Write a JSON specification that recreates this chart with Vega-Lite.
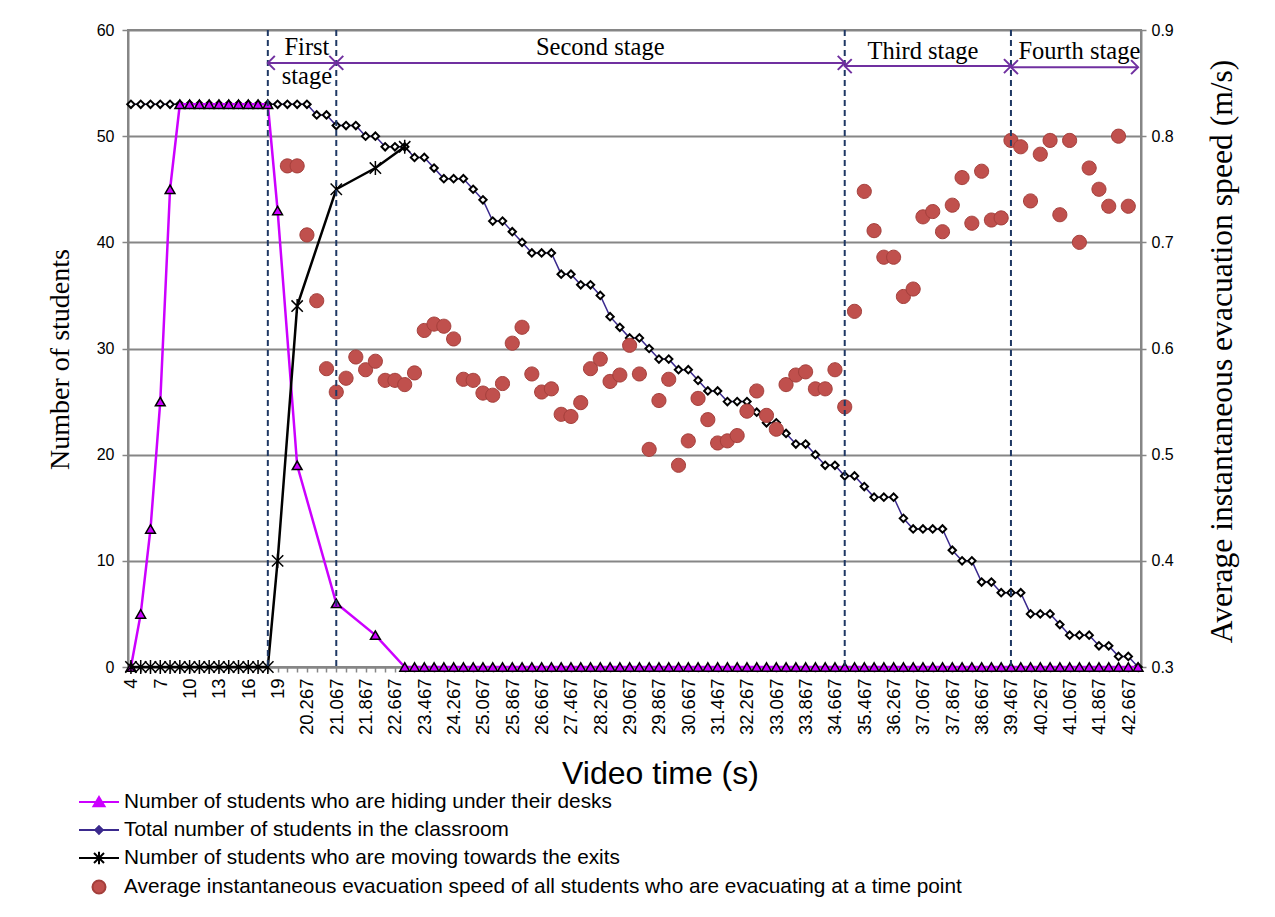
{
  "$schema": "https://vega.github.io/schema/vega-lite/v6.json",
  "width": 1013,
  "height": 637,
  "autosize": {"type": "none"},
  "padding": {"left": 128, "top": 30, "right": 134, "bottom": 250},
  "background": "white",
  "config": {
    "view": {"stroke": "#868686", "strokeWidth": 2},
    "axis": {
      "domainColor": "#868686",
      "domainWidth": 2,
      "tickColor": "#868686",
      "tickWidth": 1.5,
      "labelColor": "#000000",
      "labelFont": "Liberation Sans",
      "labelFontSize": 16,
      "titleColor": "#000000",
      "titleFontWeight": "normal"
    }
  },
  "datasets": {
    "total": [
      {"t": "4", "n": 53}, {"t": "5", "n": 53}, {"t": "6", "n": 53}, {"t": "7", "n": 53},
      {"t": "8", "n": 53}, {"t": "9", "n": 53}, {"t": "10", "n": 53}, {"t": "11", "n": 53},
      {"t": "12", "n": 53}, {"t": "13", "n": 53}, {"t": "14", "n": 53}, {"t": "15", "n": 53},
      {"t": "16", "n": 53}, {"t": "17", "n": 53}, {"t": "18", "n": 53}, {"t": "19", "n": 53},
      {"t": "19.733", "n": 53}, {"t": "20.000", "n": 53}, {"t": "20.267", "n": 53},
      {"t": "20.533", "n": 52}, {"t": "20.800", "n": 52},
      {"t": "21.067", "n": 51}, {"t": "21.333", "n": 51}, {"t": "21.600", "n": 51},
      {"t": "21.867", "n": 50}, {"t": "22.133", "n": 50},
      {"t": "22.400", "n": 49}, {"t": "22.667", "n": 49}, {"t": "22.933", "n": 49},
      {"t": "23.200", "n": 48}, {"t": "23.467", "n": 48},
      {"t": "23.733", "n": 47},
      {"t": "24.000", "n": 46}, {"t": "24.267", "n": 46}, {"t": "24.533", "n": 46},
      {"t": "24.800", "n": 45},
      {"t": "25.067", "n": 44},
      {"t": "25.333", "n": 42}, {"t": "25.600", "n": 42},
      {"t": "25.867", "n": 41},
      {"t": "26.133", "n": 40},
      {"t": "26.400", "n": 39}, {"t": "26.667", "n": 39}, {"t": "26.933", "n": 39},
      {"t": "27.200", "n": 37}, {"t": "27.467", "n": 37},
      {"t": "27.733", "n": 36}, {"t": "28.000", "n": 36},
      {"t": "28.267", "n": 35},
      {"t": "28.533", "n": 33},
      {"t": "28.800", "n": 32},
      {"t": "29.067", "n": 31}, {"t": "29.333", "n": 31},
      {"t": "29.600", "n": 30},
      {"t": "29.867", "n": 29}, {"t": "30.133", "n": 29},
      {"t": "30.400", "n": 28}, {"t": "30.667", "n": 28},
      {"t": "30.933", "n": 27},
      {"t": "31.200", "n": 26}, {"t": "31.467", "n": 26},
      {"t": "31.733", "n": 25}, {"t": "32.000", "n": 25}, {"t": "32.267", "n": 25},
      {"t": "32.533", "n": 24},
      {"t": "32.800", "n": 23}, {"t": "33.067", "n": 23},
      {"t": "33.333", "n": 22},
      {"t": "33.600", "n": 21}, {"t": "33.867", "n": 21},
      {"t": "34.133", "n": 20},
      {"t": "34.400", "n": 19}, {"t": "34.667", "n": 19},
      {"t": "34.933", "n": 18}, {"t": "35.200", "n": 18},
      {"t": "35.467", "n": 17},
      {"t": "35.733", "n": 16}, {"t": "36.000", "n": 16}, {"t": "36.267", "n": 16},
      {"t": "36.533", "n": 14},
      {"t": "36.800", "n": 13}, {"t": "37.067", "n": 13}, {"t": "37.333", "n": 13}, {"t": "37.600", "n": 13},
      {"t": "37.867", "n": 11},
      {"t": "38.133", "n": 10}, {"t": "38.400", "n": 10},
      {"t": "38.667", "n": 8}, {"t": "38.933", "n": 8},
      {"t": "39.200", "n": 7}, {"t": "39.467", "n": 7}, {"t": "39.733", "n": 7},
      {"t": "40.000", "n": 5}, {"t": "40.267", "n": 5}, {"t": "40.533", "n": 5},
      {"t": "40.800", "n": 4},
      {"t": "41.067", "n": 3}, {"t": "41.333", "n": 3}, {"t": "41.600", "n": 3},
      {"t": "41.867", "n": 2}, {"t": "42.133", "n": 2},
      {"t": "42.400", "n": 1}, {"t": "42.667", "n": 1},
      {"t": "42.933", "n": 0}
    ],
    "hiding": [
      {"t": "4", "n": 0}, {"t": "5", "n": 5}, {"t": "6", "n": 13}, {"t": "7", "n": 25},
      {"t": "8", "n": 45}, {"t": "9", "n": 53}, {"t": "10", "n": 53}, {"t": "11", "n": 53},
      {"t": "12", "n": 53}, {"t": "13", "n": 53}, {"t": "14", "n": 53}, {"t": "15", "n": 53},
      {"t": "16", "n": 53}, {"t": "17", "n": 53}, {"t": "18", "n": 53}, {"t": "19", "n": 43},
      {"t": "20.000", "n": 19}, {"t": "21.067", "n": 6}, {"t": "22.133", "n": 3},
      {"t": "22.933", "n": 0}, {"t": "23.200", "n": 0}, {"t": "23.467", "n": 0}, {"t": "23.733", "n": 0},
      {"t": "24.000", "n": 0}, {"t": "24.267", "n": 0}, {"t": "24.533", "n": 0}, {"t": "24.800", "n": 0},
      {"t": "25.067", "n": 0}, {"t": "25.333", "n": 0}, {"t": "25.600", "n": 0}, {"t": "25.867", "n": 0},
      {"t": "26.133", "n": 0}, {"t": "26.400", "n": 0}, {"t": "26.667", "n": 0}, {"t": "26.933", "n": 0},
      {"t": "27.200", "n": 0}, {"t": "27.467", "n": 0}, {"t": "27.733", "n": 0}, {"t": "28.000", "n": 0},
      {"t": "28.267", "n": 0}, {"t": "28.533", "n": 0}, {"t": "28.800", "n": 0}, {"t": "29.067", "n": 0},
      {"t": "29.333", "n": 0}, {"t": "29.600", "n": 0}, {"t": "29.867", "n": 0}, {"t": "30.133", "n": 0},
      {"t": "30.400", "n": 0}, {"t": "30.667", "n": 0}, {"t": "30.933", "n": 0}, {"t": "31.200", "n": 0},
      {"t": "31.467", "n": 0}, {"t": "31.733", "n": 0}, {"t": "32.000", "n": 0}, {"t": "32.267", "n": 0},
      {"t": "32.533", "n": 0}, {"t": "32.800", "n": 0}, {"t": "33.067", "n": 0}, {"t": "33.333", "n": 0},
      {"t": "33.600", "n": 0}, {"t": "33.867", "n": 0}, {"t": "34.133", "n": 0}, {"t": "34.400", "n": 0},
      {"t": "34.667", "n": 0}, {"t": "34.933", "n": 0}, {"t": "35.200", "n": 0}, {"t": "35.467", "n": 0},
      {"t": "35.733", "n": 0}, {"t": "36.000", "n": 0}, {"t": "36.267", "n": 0}, {"t": "36.533", "n": 0},
      {"t": "36.800", "n": 0}, {"t": "37.067", "n": 0}, {"t": "37.333", "n": 0}, {"t": "37.600", "n": 0},
      {"t": "37.867", "n": 0}, {"t": "38.133", "n": 0}, {"t": "38.400", "n": 0}, {"t": "38.667", "n": 0},
      {"t": "38.933", "n": 0}, {"t": "39.200", "n": 0}, {"t": "39.467", "n": 0}, {"t": "39.733", "n": 0},
      {"t": "40.000", "n": 0}, {"t": "40.267", "n": 0}, {"t": "40.533", "n": 0}, {"t": "40.800", "n": 0},
      {"t": "41.067", "n": 0}, {"t": "41.333", "n": 0}, {"t": "41.600", "n": 0}, {"t": "41.867", "n": 0},
      {"t": "42.133", "n": 0}, {"t": "42.400", "n": 0}, {"t": "42.667", "n": 0}, {"t": "42.933", "n": 0}
    ],
    "moving": [
      {"t": "4", "n": 0}, {"t": "5", "n": 0}, {"t": "6", "n": 0}, {"t": "7", "n": 0},
      {"t": "8", "n": 0}, {"t": "9", "n": 0}, {"t": "10", "n": 0}, {"t": "11", "n": 0},
      {"t": "12", "n": 0}, {"t": "13", "n": 0}, {"t": "14", "n": 0}, {"t": "15", "n": 0},
      {"t": "16", "n": 0}, {"t": "17", "n": 0}, {"t": "18", "n": 0}, {"t": "19", "n": 10},
      {"t": "20.000", "n": 34}, {"t": "21.067", "n": 45}, {"t": "22.133", "n": 47}, {"t": "22.933", "n": 49}
    ],
    "speed": [
      {"t": "19.733", "v": 0.772, "s": "speed"}, {"t": "20.000", "v": 0.772, "s": "speed"},
      {"t": "20.267", "v": 0.707, "s": "speed"}, {"t": "20.533", "v": 0.645, "s": "speed"},
      {"t": "20.800", "v": 0.581, "s": "speed"}, {"t": "21.067", "v": 0.559, "s": "speed"},
      {"t": "21.333", "v": 0.572, "s": "speed"}, {"t": "21.600", "v": 0.592, "s": "speed"},
      {"t": "21.867", "v": 0.580, "s": "speed"}, {"t": "22.133", "v": 0.588, "s": "speed"},
      {"t": "22.400", "v": 0.570, "s": "speed"}, {"t": "22.667", "v": 0.570, "s": "speed"},
      {"t": "22.933", "v": 0.566, "s": "speed"}, {"t": "23.200", "v": 0.577, "s": "speed"},
      {"t": "23.467", "v": 0.617, "s": "speed"}, {"t": "23.733", "v": 0.623, "s": "speed"},
      {"t": "24.000", "v": 0.621, "s": "speed"}, {"t": "24.267", "v": 0.609, "s": "speed"},
      {"t": "24.533", "v": 0.571, "s": "speed"}, {"t": "24.800", "v": 0.570, "s": "speed"},
      {"t": "25.067", "v": 0.558, "s": "speed"}, {"t": "25.333", "v": 0.556, "s": "speed"},
      {"t": "25.600", "v": 0.567, "s": "speed"}, {"t": "25.867", "v": 0.605, "s": "speed"},
      {"t": "26.133", "v": 0.620, "s": "speed"}, {"t": "26.400", "v": 0.576, "s": "speed"},
      {"t": "26.667", "v": 0.559, "s": "speed"}, {"t": "26.933", "v": 0.562, "s": "speed"},
      {"t": "27.200", "v": 0.538, "s": "speed"}, {"t": "27.467", "v": 0.536, "s": "speed"},
      {"t": "27.733", "v": 0.549, "s": "speed"}, {"t": "28.000", "v": 0.581, "s": "speed"},
      {"t": "28.267", "v": 0.590, "s": "speed"}, {"t": "28.533", "v": 0.569, "s": "speed"},
      {"t": "28.800", "v": 0.575, "s": "speed"}, {"t": "29.067", "v": 0.603, "s": "speed"},
      {"t": "29.333", "v": 0.576, "s": "speed"}, {"t": "29.600", "v": 0.505, "s": "speed"},
      {"t": "29.867", "v": 0.551, "s": "speed"}, {"t": "30.133", "v": 0.571, "s": "speed"},
      {"t": "30.400", "v": 0.490, "s": "speed"}, {"t": "30.667", "v": 0.513, "s": "speed"},
      {"t": "30.933", "v": 0.553, "s": "speed"}, {"t": "31.200", "v": 0.533, "s": "speed"},
      {"t": "31.467", "v": 0.511, "s": "speed"}, {"t": "31.733", "v": 0.513, "s": "speed"},
      {"t": "32.000", "v": 0.518, "s": "speed"}, {"t": "32.267", "v": 0.541, "s": "speed"},
      {"t": "32.533", "v": 0.560, "s": "speed"}, {"t": "32.800", "v": 0.537, "s": "speed"},
      {"t": "33.067", "v": 0.524, "s": "speed"}, {"t": "33.333", "v": 0.566, "s": "speed"},
      {"t": "33.600", "v": 0.575, "s": "speed"}, {"t": "33.867", "v": 0.578, "s": "speed"},
      {"t": "34.133", "v": 0.562, "s": "speed"}, {"t": "34.400", "v": 0.562, "s": "speed"},
      {"t": "34.667", "v": 0.580, "s": "speed"}, {"t": "34.933", "v": 0.545, "s": "speed"},
      {"t": "35.200", "v": 0.635, "s": "speed"}, {"t": "35.467", "v": 0.748, "s": "speed"},
      {"t": "35.733", "v": 0.711, "s": "speed"}, {"t": "36.000", "v": 0.686, "s": "speed"},
      {"t": "36.267", "v": 0.686, "s": "speed"}, {"t": "36.533", "v": 0.649, "s": "speed"},
      {"t": "36.800", "v": 0.656, "s": "speed"}, {"t": "37.067", "v": 0.724, "s": "speed"},
      {"t": "37.333", "v": 0.729, "s": "speed"}, {"t": "37.600", "v": 0.710, "s": "speed"},
      {"t": "37.867", "v": 0.735, "s": "speed"}, {"t": "38.133", "v": 0.761, "s": "speed"},
      {"t": "38.400", "v": 0.718, "s": "speed"}, {"t": "38.667", "v": 0.767, "s": "speed"},
      {"t": "38.933", "v": 0.721, "s": "speed"}, {"t": "39.200", "v": 0.723, "s": "speed"},
      {"t": "39.467", "v": 0.796, "s": "speed"}, {"t": "39.733", "v": 0.790, "s": "speed"},
      {"t": "40.000", "v": 0.739, "s": "speed"}, {"t": "40.267", "v": 0.783, "s": "speed"},
      {"t": "40.533", "v": 0.796, "s": "speed"}, {"t": "40.800", "v": 0.726, "s": "speed"},
      {"t": "41.067", "v": 0.796, "s": "speed"}, {"t": "41.333", "v": 0.700, "s": "speed"},
      {"t": "41.600", "v": 0.770, "s": "speed"}, {"t": "41.867", "v": 0.750, "s": "speed"},
      {"t": "42.133", "v": 0.734, "s": "speed"}, {"t": "42.400", "v": 0.800, "s": "speed"},
      {"t": "42.667", "v": 0.734, "s": "speed"}
    ],
    "stageBounds": [
      {"t": "18"}, {"t": "21.067"}, {"t": "34.933"}, {"t": "39.467"}
    ],
    "stageSpans": [
      {"t": "18", "t2": "21.067", "n": 56.9},
      {"t": "21.067", "t2": "34.933", "n": 56.9},
      {"t": "34.933", "t2": "39.467", "n": 56.6},
      {"t": "39.467", "t2": "42.933", "n": 56.5}
    ],
    "stageEnds": [
      {"t": "18", "n": 56.9, "dir": "left"}, {"t": "21.067", "n": 56.9, "dir": "right"},
      {"t": "21.067", "n": 56.9, "dir": "left"}, {"t": "34.933", "n": 56.9, "dir": "right"},
      {"t": "34.933", "n": 56.6, "dir": "left"}, {"t": "39.467", "n": 56.6, "dir": "right"},
      {"t": "39.467", "n": 56.5, "dir": "left"}, {"t": "42.933", "n": 56.5, "dir": "right"}
    ],
    "stageNames": [
      {"t": "20.267", "n": 58.3, "label": "First\nstage"},
      {"t": "28.267", "n": 58.3, "label": "Second stage"},
      {"t": "37.067", "n": 57.9, "label": "Third stage"},
      {"t": "41.333", "n": 57.9, "label": "Fourth stage"}
    ]
  },
  "encoding": {
    "x": {
      "field": "t",
      "type": "ordinal",
      "scale": {
        "type": "point",
        "padding": 0.3,
        "domain": ["4", "5", "6", "7", "8", "9", "10", "11", "12", "13", "14", "15", "16", "17", "18", "19",
          "19.733", "20.000", "20.267", "20.533", "20.800", "21.067", "21.333", "21.600", "21.867", "22.133",
          "22.400", "22.667", "22.933", "23.200", "23.467", "23.733", "24.000", "24.267", "24.533", "24.800",
          "25.067", "25.333", "25.600", "25.867", "26.133", "26.400", "26.667", "26.933", "27.200", "27.467",
          "27.733", "28.000", "28.267", "28.533", "28.800", "29.067", "29.333", "29.600", "29.867", "30.133",
          "30.400", "30.667", "30.933", "31.200", "31.467", "31.733", "32.000", "32.267", "32.533", "32.800",
          "33.067", "33.333", "33.600", "33.867", "34.133", "34.400", "34.667", "34.933", "35.200", "35.467",
          "35.733", "36.000", "36.267", "36.533", "36.800", "37.067", "37.333", "37.600", "37.867", "38.133",
          "38.400", "38.667", "38.933", "39.200", "39.467", "39.733", "40.000", "40.267", "40.533", "40.800",
          "41.067", "41.333", "41.600", "41.867", "42.133", "42.400", "42.667", "42.933"]
      },
      "axis": {
        "title": "Video time (s)",
        "titleFont": "Liberation Sans",
        "titleFontSize": 32,
        "titleX": 532,
        "titleY": 106,
        "titleBaseline": "middle",
        "labelAngle": 270,
        "labelFontSize": 18.5,
        "labelOverlap": false,
        "labelPadding": 6,
        "tickSize": 5,
        "labelExpr": "test(regexp('^(4|7|10|13|16|19)$|67$'), datum.value) ? datum.value : ''"
      }
    }
  },
  "layer": [
    {
      "encoding": {
        "y": {
          "field": "n",
          "type": "quantitative",
          "scale": {"domain": [0, 60], "nice": false},
          "axis": {
            "title": "Number of students",
            "titleFont": "Liberation Serif",
            "titleFontSize": 28,
            "titleAngle": 270,
            "titleX": -68,
            "titleY": 329,
            "titleAlign": "center",
            "titleBaseline": "middle",
            "values": [0, 10, 20, 30, 40, 50, 60],
            "grid": true,
            "gridColor": "#868686",
            "gridWidth": 2,
            "tickSize": 6,
            "labelPadding": 8
          }
        }
      },
      "layer": [
        {
          "data": {"name": "total"},
          "mark": {"type": "line", "color": "#3B2A8E", "strokeWidth": 1.5}
        },
        {
          "data": {"name": "total"},
          "mark": {"type": "point", "shape": "diamond", "size": 55, "filled": true, "fill": "white", "stroke": "#000000", "strokeWidth": 2, "opacity": 1}
        },
        {
          "data": {"name": "hiding"},
          "mark": {"type": "line", "color": "#CC00FF", "strokeWidth": 2.5}
        },
        {
          "data": {"name": "hiding"},
          "mark": {"type": "point", "shape": "triangle-up", "size": 95, "filled": true, "fill": "#CC00FF", "stroke": "#000000", "strokeWidth": 1.5, "opacity": 1}
        },
        {
          "data": {"name": "moving"},
          "mark": {"type": "line", "color": "#000000", "strokeWidth": 2.5}
        },
        {
          "data": {"name": "moving"},
          "mark": {"type": "point", "shape": "M-0.8,-0.8L0.8,0.8M-0.8,0.8L0.8,-0.8M0,-1L0,1", "size": 200, "filled": false, "stroke": "#000000", "strokeWidth": 1.5, "opacity": 1}
        }
      ]
    },
    {
      "data": {"name": "speed"},
      "mark": {"type": "point", "filled": true, "size": 470, "strokeWidth": 1, "opacity": 1},
      "encoding": {
        "y": {
          "field": "v",
          "type": "quantitative",
          "scale": {"domain": [0.3, 0.9], "nice": false, "zero": false},
          "axis": {
            "orient": "right",
            "title": "Average instantaneous evacuation speed (m/s)",
            "titleFont": "Liberation Serif",
            "titleFontSize": 31.6,
            "titleAngle": 270,
            "titleX": 81,
            "titleY": 321,
            "titleAlign": "center",
            "titleBaseline": "middle",
            "values": [0.3, 0.4, 0.5, 0.6, 0.7, 0.8, 0.9],
            "format": ".1f",
            "grid": false,
            "tickSize": 5,
            "labelPadding": 5
          }
        },
        "color": {
          "field": "s",
          "type": "nominal",
          "scale": {"domain": ["hide", "total", "move", "speed"], "range": ["#CC00FF", "#3B2A8E", "#000000", "#C0504D"]},
          "legend": {
            "orient": "none", "legendX": -40, "legendY": 761, "direction": "vertical", "title": null,
            "labelFont": "Liberation Sans", "labelFontSize": 20.8, "labelColor": "#000000", "labelLimit": 1000,
            "labelOffset": 14, "symbolSize": 400, "rowPadding": 7, "symbolStrokeWidth": 2,
            "labelExpr": "datum.value == 'hide' ? 'Number of students who are hiding under their desks' : datum.value == 'total' ? 'Total number of students in the classroom' : datum.value == 'move' ? 'Number of students who are moving towards the exits' : 'Average instantaneous evacuation speed of all students who are evacuating at a time point'",
            "encode": {"symbols": {"update": {"strokeWidth": {"value": 2}, "size": {"value": 400}, "opacity": {"value": 1}}}}
          }
        },
        "stroke": {
          "field": "s",
          "type": "nominal",
          "scale": {"domain": ["hide", "total", "move", "speed"], "range": ["#CC00FF", "#3B2A8E", "#000000", "#A33F3B"]},
          "legend": {
            "orient": "none", "legendX": -40, "legendY": 761, "direction": "vertical", "title": null,
            "labelFont": "Liberation Sans", "labelFontSize": 20.8, "labelColor": "#000000", "labelLimit": 1000,
            "labelOffset": 14, "symbolSize": 400, "rowPadding": 7, "symbolStrokeWidth": 2,
            "labelExpr": "datum.value == 'hide' ? 'Number of students who are hiding under their desks' : datum.value == 'total' ? 'Total number of students in the classroom' : datum.value == 'move' ? 'Number of students who are moving towards the exits' : 'Average instantaneous evacuation speed of all students who are evacuating at a time point'",
            "encode": {"symbols": {"update": {"strokeWidth": {"value": 2}, "size": {"value": 400}, "opacity": {"value": 1}}}}
          }
        },
        "shape": {
          "field": "s",
          "type": "nominal",
          "scale": {
            "domain": ["hide", "total", "move", "speed"],
            "range": [
              "M-2,0H2M0,-0.5L0.55,0.42L-0.55,0.42Z",
              "M-2,0H2M0,-0.38L0.38,0L0,0.38L-0.38,0Z",
              "M-2,0H2M-0.5,-0.5L0.5,0.5M-0.5,0.5L0.5,-0.5M0,-0.62V0.62",
              "M0.65,0A0.65,0.65,0,1,1,-0.65,0A0.65,0.65,0,1,1,0.65,0Z"
            ]
          },
          "legend": {
            "orient": "none", "legendX": -40, "legendY": 761, "direction": "vertical", "title": null,
            "labelFont": "Liberation Sans", "labelFontSize": 20.8, "labelColor": "#000000", "labelLimit": 1000,
            "labelOffset": 14, "symbolSize": 400, "rowPadding": 7, "symbolStrokeWidth": 2,
            "labelExpr": "datum.value == 'hide' ? 'Number of students who are hiding under their desks' : datum.value == 'total' ? 'Total number of students in the classroom' : datum.value == 'move' ? 'Number of students who are moving towards the exits' : 'Average instantaneous evacuation speed of all students who are evacuating at a time point'",
            "encode": {"symbols": {"update": {"strokeWidth": {"value": 2}, "size": {"value": 400}, "opacity": {"value": 1}}}}
          }
        }
      }
    },
    {
      "layer": [
        {
          "data": {"name": "stageBounds"},
          "mark": {"type": "rule", "color": "#1F3864", "strokeWidth": 2, "strokeDash": [6, 4]}
        },
        {
          "data": {"name": "stageSpans"},
          "mark": {"type": "rule", "color": "#7030A0", "strokeWidth": 2},
          "encoding": {
            "x2": {"field": "t2"},
            "y": {"field": "n", "type": "quantitative", "scale": {"domain": [0, 60], "nice": false}, "axis": null}
          }
        },
        {
          "data": {"name": "stageEnds"},
          "transform": [{"filter": "datum.dir == 'left'"}],
          "mark": {"type": "point", "shape": "M1,-1L0,0L1,1", "size": 196, "filled": false, "stroke": "#7030A0", "strokeWidth": 2, "opacity": 1},
          "encoding": {
            "y": {"field": "n", "type": "quantitative", "scale": {"domain": [0, 60], "nice": false}, "axis": null}
          }
        },
        {
          "data": {"name": "stageEnds"},
          "transform": [{"filter": "datum.dir == 'right'"}],
          "mark": {"type": "point", "shape": "M-1,-1L0,0L-1,1", "size": 196, "filled": false, "stroke": "#7030A0", "strokeWidth": 2, "opacity": 1},
          "encoding": {
            "y": {"field": "n", "type": "quantitative", "scale": {"domain": [0, 60], "nice": false}, "axis": null}
          }
        },
        {
          "data": {"name": "stageNames"},
          "mark": {"type": "text", "font": "Liberation Serif", "fontSize": 24.5, "color": "#000000", "align": "center", "baseline": "middle", "lineBreak": "\n", "lineHeight": 29},
          "encoding": {
            "y": {"field": "n", "type": "quantitative", "scale": {"domain": [0, 60], "nice": false}, "axis": null},
            "text": {"field": "label"}
          }
        }
      ]
    }
  ],
  "resolve": {"scale": {"y": "independent"}}
}
